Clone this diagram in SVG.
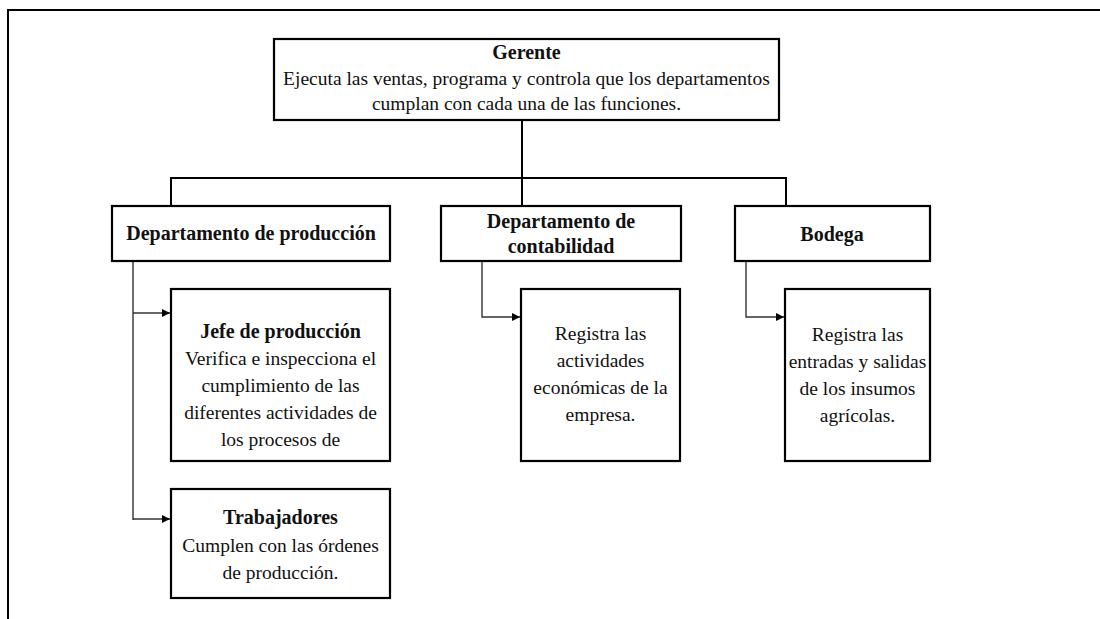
<svg xmlns="http://www.w3.org/2000/svg" width="1100" height="619" viewBox="0 0 1100 619">
<defs>
<marker id="arr" viewBox="0 0 10 10" refX="10" refY="5" markerWidth="10" markerHeight="8" markerUnits="userSpaceOnUse" orient="auto">
<path d="M0,0 L10,5 L0,10 z" fill="#000"/>
</marker>
<style>
.box{fill:#fff;stroke:#000;stroke-width:2.2}
.t{font-family:"Liberation Serif","Times New Roman",serif;font-size:19.5px;fill:#111;text-anchor:middle}
.b{font-weight:bold;font-size:20px}
.main{fill:none;stroke:#000;stroke-width:2}
.thin{fill:none;stroke:#333;stroke-width:1.4}
.frame{fill:none;stroke:#000;stroke-width:2}
</style>
</defs>
<rect width="1100" height="619" fill="#fff"/>
<path class="frame" d="M8,619 L8,10 L1100,10"/>
<g id="connectors">
<path class="main" d="M522,120 L522,206"/>
<path class="main" d="M171,206 L171,178 L786,178 L786,206"/>
<path class="thin" d="M133,261 L133,520"/>
<path class="thin" d="M133,313 L170,313" marker-end="url(#arr)"/>
<path class="thin" d="M133,519 L170,519" marker-end="url(#arr)"/>
<path class="thin" d="M482,261 L482,317 L520,317" marker-end="url(#arr)"/>
<path class="thin" d="M746,261 L746,317 L784,317" marker-end="url(#arr)"/>
</g>
<g id="gerente">
<rect class="box" x="274" y="39" width="505" height="81"/>
<text class="t b" x="526.5" y="59">Gerente</text>
<text class="t" x="526.5" y="85">Ejecuta las ventas, programa y controla que los departamentos</text>
<text class="t" x="526.5" y="110">cumplan con cada una de las funciones.</text>
</g>
<g id="dep-produccion">
<rect class="box" x="112" y="206" width="278" height="55"/>
<text class="t b" x="251" y="240">Departamento de producción</text>
</g>
<g id="dep-contabilidad">
<rect class="box" x="441" y="206" width="240" height="55"/>
<text class="t b" x="561" y="228">Departamento de</text>
<text class="t b" x="561" y="253">contabilidad</text>
</g>
<g id="bodega">
<rect class="box" x="735" y="206" width="195" height="55"/>
<text class="t b" x="832" y="241">Bodega</text>
</g>
<g id="jefe">
<rect class="box" x="171" y="289" width="219" height="172"/>
<text class="t b" x="280.5" y="338">Jefe de producción</text>
<text class="t" x="280.5" y="365">Verifica e inspecciona el</text>
<text class="t" x="280.5" y="392">cumplimiento de las</text>
<text class="t" x="280.5" y="419">diferentes actividades de</text>
<text class="t" x="280.5" y="446">los procesos de</text>
</g>
<g id="trabajadores">
<rect class="box" x="171" y="489" width="219" height="109"/>
<text class="t b" x="280.5" y="524">Trabajadores</text>
<text class="t" x="280.5" y="552">Cumplen con las órdenes</text>
<text class="t" x="280.5" y="579">de producción.</text>
</g>
<g id="contab-child">
<rect class="box" x="521" y="289" width="159" height="172"/>
<text class="t" x="600.5" y="340">Registra las</text>
<text class="t" x="600.5" y="367">actividades</text>
<text class="t" x="600.5" y="394">económicas de la</text>
<text class="t" x="600.5" y="421">empresa.</text>
</g>
<g id="bodega-child">
<rect class="box" x="785" y="289" width="145" height="172"/>
<text class="t" x="857.5" y="341">Registra las</text>
<text class="t" x="857.5" y="368">entradas y salidas</text>
<text class="t" x="857.5" y="395">de los insumos</text>
<text class="t" x="857.5" y="422">agrícolas.</text>
</g>
</svg>
